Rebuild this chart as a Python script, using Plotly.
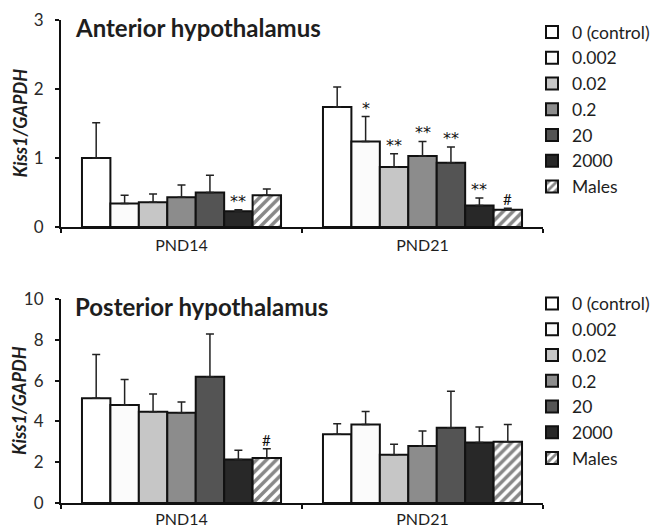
import plotly.graph_objects as go

categories = ["PND14", "PND21"]
groups = ["0 (control)", "0.002", "0.02", "0.2", "20", "2000", "Males"]

# Anterior hypothalamus: mean and upper error (SE)
ant_mean = {
    "0 (control)": [1.00, 1.74],
    "0.002": [0.34, 1.24],
    "0.02": [0.36, 0.87],
    "0.2": [0.43, 1.03],
    "20": [0.50, 0.93],
    "2000": [0.23, 0.31],
    "Males": [0.46, 0.25],
}
ant_err = {
    "0 (control)": [0.51, 0.29],
    "0.002": [0.12, 0.36],
    "0.02": [0.12, 0.19],
    "0.2": [0.18, 0.21],
    "20": [0.25, 0.23],
    "2000": [0.02, 0.11],
    "Males": [0.09, 0.02],
}
# Posterior hypothalamus
post_mean = {
    "0 (control)": [5.14, 3.37],
    "0.002": [4.81, 3.85],
    "0.02": [4.47, 2.36],
    "0.2": [4.42, 2.79],
    "20": [6.19, 3.69],
    "2000": [2.13, 2.96],
    "Males": [2.20, 3.00],
}
post_err = {
    "0 (control)": [2.14, 0.51],
    "0.002": [1.25, 0.64],
    "0.02": [0.87, 0.52],
    "0.2": [0.53, 0.74],
    "20": [2.10, 1.79],
    "2000": [0.45, 0.77],
    "Males": [0.46, 0.85],
}
# significance marks: (category, group, text)
ant_marks = [
    ("PND14", "2000", "**"),
    ("PND21", "0.002", "*"),
    ("PND21", "0.02", "**"),
    ("PND21", "0.2", "**"),
    ("PND21", "20", "**"),
    ("PND21", "2000", "**"),
    ("PND21", "Males", "#"),
]
post_marks = [
    ("PND14", "Males", "#"),
]

colors = {
    "0 (control)": "#ffffff",
    "0.002": "#fbfbfb",
    "0.02": "#c6c6c6",
    "0.2": "#8c8c8c",
    "20": "#545454",
    "2000": "#282828",
    "Males": "#ffffff",
}

FONT = "Lato"
TXT = "#1e1e1e"
W, H = 654, 530
ML, MR, MT, MB = 61, 111, 20, 27
BARGAP = 0.174

fig = go.Figure()

def add_panel(means, errs, xaxis, yaxis, legend):
    for g in groups:
        pat = dict(shape="/", fgcolor="#111111", bgcolor="#ffffff", size=7, solidity=0.5) if g == "Males" else dict(shape="")
        fig.add_trace(go.Bar(
            x=categories, y=means[g], name=g,
            xaxis=xaxis, yaxis=yaxis, legend=legend,
            marker=dict(color=colors[g], line=dict(color="#111111", width=2), pattern=pat),
            error_y=dict(type="data", symmetric=False, array=errs[g],
                         arrayminus=[0] * len(errs[g]), color="#222222",
                         thickness=1.5, width=4),
        ))

add_panel(ant_mean, ant_err, "x", "y", "legend")
add_panel(post_mean, post_err, "x2", "y2", "legend2")

plot_h = H - MT - MB
base_bot = H - MB
top_dom = [(base_bot - 227) / plot_h, 1.0]
bot_dom = [0.0, (base_bot - 299) / plot_h]

axis_common = dict(showline=True, linecolor="#111111", linewidth=2, ticks="outside",
                   tickcolor="#111111", ticklen=4, tickwidth=1.5,
                   showgrid=False, zeroline=False, automargin=False)
xfont = dict(family=FONT, size=16, color=TXT)
yfont = dict(family=FONT, size=17, color="#2a2a2a")

plot_w = W - ML - MR
leg_common = dict(x=(532 - ML) / plot_w, xanchor="left", yanchor="top",
                  font=dict(family=FONT, size=17.5, color=TXT),
                  itemclick=False, bgcolor="rgba(0,0,0,0)", tracegroupgap=0)

fig.update_layout(
    width=W, height=H,
    margin=dict(l=ML, r=MR, t=MT, b=MB, autoexpand=False),
    paper_bgcolor="white", plot_bgcolor="white",
    barmode="group", bargap=BARGAP, bargroupgap=0,
    xaxis=dict(domain=[0, 1], anchor="y", type="category", tickson="boundaries", tickfont=xfont,
               ticklabelstandoff=3, **axis_common),
    xaxis2=dict(domain=[0, 1], anchor="y2", type="category", tickson="boundaries", tickfont=xfont,
                ticklabelstandoff=1, **axis_common),
    yaxis=dict(domain=top_dom, anchor="x", range=[0, 3], tickvals=[0, 1, 2, 3], tickfont=yfont,
               ticklabelstandoff=8, **axis_common),
    yaxis2=dict(domain=bot_dom, anchor="x2", range=[0, 10], tickvals=[0, 2, 4, 6, 8, 10], tickfont=yfont,
                ticklabelstandoff=8, **axis_common),
    legend=dict(y=1.0 + 6 / plot_h, **leg_common),
    legend2=dict(y=bot_dom[1] + 0.013 + 7 / plot_h, **leg_common),
    showlegend=True,
)

bar_w = plot_w / len(categories) * (1 - BARGAP) / len(groups)

annotations = []
def add_marks(marks, means, errs, xref, yref):
    for cat, g, t in marks:
        ci = categories.index(cat)
        gi = groups.index(g)
        yv = means[g][ci] + errs[g][ci]
        star = t.startswith("*")
        annotations.append(dict(x=cat, y=yv, xref=xref, yref=yref, text=t, showarrow=False,
                                xshift=(gi - (len(groups) - 1) / 2) * bar_w, yanchor="bottom",
                                yshift=-3 if star else -2,
                                font=dict(family="DejaVu Sans" if star else FONT,
                                          size=16 if star else 15, color="#111111")))

add_marks(ant_marks, ant_mean, ant_err, "x", "y")
add_marks(post_marks, post_mean, post_err, "x2", "y2")

for title, yref in [("Anterior hypothalamus", "y"), ("Posterior hypothalamus", "y2")]:
    annotations.append(dict(x=(73 - ML) / plot_w, xref="paper", y=1, yref=yref + " domain", yanchor="middle",
                            yshift=-7, xanchor="left", text="<b>" + title + "</b>", showarrow=False,
                            font=dict(family=FONT, size=24, color=TXT)))
    annotations.append(dict(x=(19 - ML) / plot_w, xref="paper", y=0.5, yref=yref + " domain", xanchor="center",
                            yanchor="middle", textangle=-90, text="<b><i>Kiss1/GAPDH</i></b>", showarrow=False,
                            font=dict(family=FONT, size=18, color=TXT)))

fig.update_layout(annotations=annotations)
fig.write_html("out.html")
